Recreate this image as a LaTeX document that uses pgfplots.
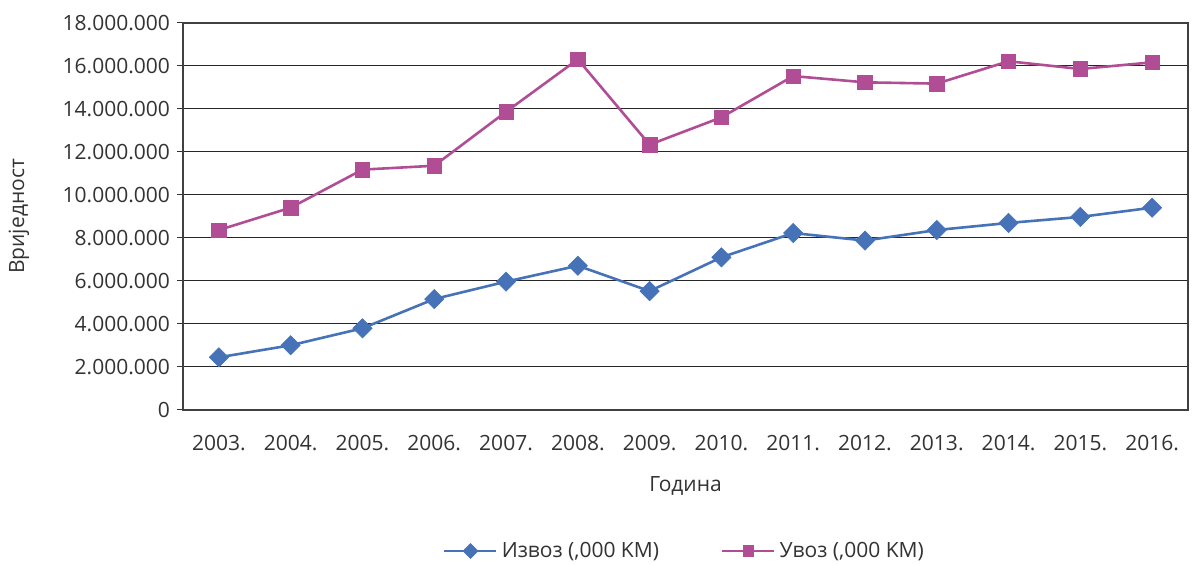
\documentclass[border=0pt]{standalone}
\usepackage{pgfplots}
\pgfplotsset{compat=1.18}
\usepackage{fontspec}
\setmainfont{Open Sans}
\definecolor{izv}{RGB}{70,114,184}
\definecolor{uvo}{RGB}{176,77,148}
\begin{document}
\begin{tikzpicture}
\begin{axis}[
  scale only axis,
  width=502.5pt, height=193.5pt,
  xmin=-0.5, xmax=13.5,
  ymin=0, ymax=18000000,
  xtick={0,...,13},
  xticklabels={2003.,2004.,2005.,2006.,2007.,2008.,2009.,2010.,2011.,2012.,2013.,2014.,2015.,2016.},
  ytick={0,2000000,...,18000000},
  ytick pos=left,
  scaled y ticks=false,
  yticklabel style={/pgf/number format/fixed, /pgf/number format/precision=0, /pgf/number format/1000 sep={.}, /pgf/number format/assume math mode=true, xshift=0pt},
  ticklabel style={font=\fontsize{10.5}{12}\selectfont, text=black!80},
  xtick style={draw=none},
  ytick style={black!80, line width=0.5pt},
  tick align=outside,
  major tick length=3pt,
  axis line style={black!75, line width=0.6pt},
  ymajorgrids,
  grid style={black!85, line width=0.5pt},
  xticklabel style={yshift=-6pt},
  xlabel={Година},
  ylabel={Вриједност},
  label style={font=\fontsize{10.5}{12}\selectfont, text=black!80},
  xlabel style={at={(axis description cs:0.5,0)}, anchor=center, yshift=-38pt},
  ylabel style={at={([xshift=-82pt]axis description cs:0,0.5)}, anchor=center},
  legend style={at={(axis description cs:0.5,0)}, anchor=center, yshift=-70.5pt, draw=none, font=\fontsize{10.5}{12}\selectfont, text=black!80, /tikz/every even column/.append style={column sep=29pt}},
  legend columns=2,
  legend cell align=left,
  legend image code/.code={\draw[mark repeat=2,mark phase=2, mark size=2.6pt] plot coordinates {(0pt,0pt)(13pt,0pt)(26pt,0pt)};},
]
\addplot[izv, line width=1.3pt, mark=square*, mark size=3.4pt, mark options={solid, fill=izv, line width=0.3pt, rotate=45}] coordinates {
(0,2450000)(1,3010000)(2,3800000)(3,5160000)(4,5970000)(5,6710000)(6,5530000)
(7,7100000)(8,8230000)(9,7880000)(10,8370000)(11,8700000)(12,8980000)(13,9410000)};
\addlegendentry{Извоз (,000 KM)}
\addplot[uvo, line width=1.3pt, mark=square*, mark size=3.6pt, mark options={solid, fill=uvo, line width=0.3pt}] coordinates {
(0,8370000)(1,9410000)(2,11180000)(3,11360000)(4,13870000)(5,16310000)(6,12340000)
(7,13610000)(8,15530000)(9,15240000)(10,15180000)(11,16220000)(12,15860000)(13,16170000)};
\addlegendentry{Увоз (,000 KM)}
\end{axis}
\pgfresetboundingbox
\path[use as bounding box] (-91.5pt,-77.5pt) rectangle (504.5pt,205pt);
\end{tikzpicture}
\end{document}
